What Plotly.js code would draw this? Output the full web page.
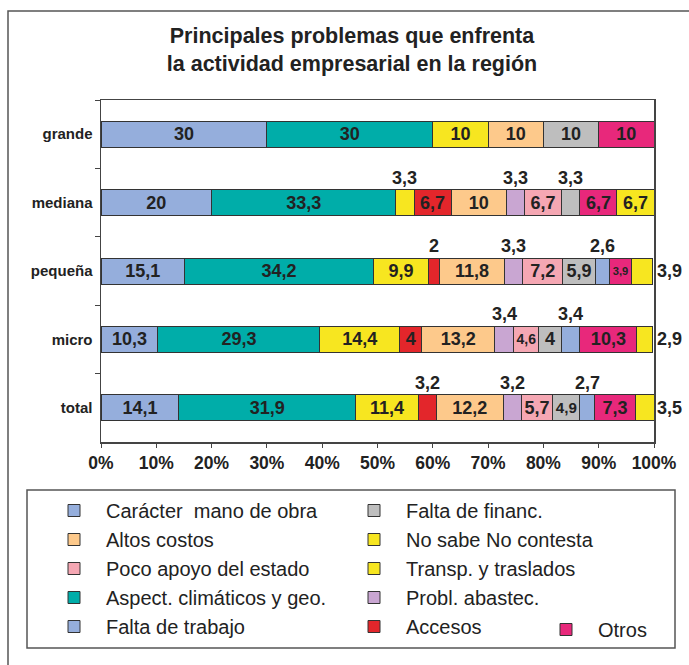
<!DOCTYPE html>
<html>
<head>
<meta charset="utf-8">
<script src="https://cdn.plot.ly/plotly-3.0.1.min.js"></script>
<style>
  html, body { margin: 0; padding: 0; background: #fff; }
</style>
</head>
<body>
<div id="chart"></div>
<script>
// categorias (de arriba hacia abajo)
const categorias = ["grande", "mediana", "pequeña", "micro", "total"];

// series en el orden en que se apilan
const caracterManoObra = [30, 20, 15.1, 10.3, 14.1];
const aspectClimaticos = [30, 33.3, 34.2, 29.3, 31.9];
const transpTraslados  = [10, 3.3, 9.9, 14.4, 11.4];
const accesos          = [0, 6.7, 2, 4, 3.2];
const altosCostos      = [10, 10, 11.8, 13.2, 12.2];
const problAbastec     = [0, 3.3, 3.3, 3.4, 3.2];
const pocoApoyo        = [0, 6.7, 7.2, 4.6, 5.7];
const faltaFinanc      = [10, 3.3, 5.9, 4, 4.9];
const faltaTrabajo     = [0, 0, 2.6, 3.4, 2.7];
const otros            = [10, 6.7, 3.9, 10.3, 7.3];
const noSabe           = [0, 6.7, 3.9, 2.9, 3.5];

const series = [
  { name: "Carácter\u00a0 mano de obra", y: caracterManoObra, color: "#95aedc" },
  { name: "Aspect. climáticos y geo.", y: aspectClimaticos, color: "#00ada9" },
  { name: "Transp. y traslados", y: transpTraslados, color: "#f7e620" },
  { name: "Accesos", y: accesos, color: "#e3262b" },
  { name: "Altos costos", y: altosCostos, color: "#fdc98b" },
  { name: "Probl. abastec.", y: problAbastec, color: "#c9a6d2" },
  { name: "Poco apoyo del estado", y: pocoApoyo, color: "#f5a7b3" },
  { name: "Falta de financ.", y: faltaFinanc, color: "#bebebe" },
  { name: "Falta de trabajo", y: faltaTrabajo, color: "#95aedc" },
  { name: "Otros", y: otros, color: "#e8287b" },
  { name: "No sabe No contesta", y: noSabe, color: "#f7e620" },
];

// columnas de la leyenda
const leyendaCol1 = ["Carácter\u00a0 mano de obra", "Altos costos", "Poco apoyo del estado", "Aspect. climáticos y geo.", "Falta de trabajo"];
const leyendaCol2 = ["Falta de financ.", "No sabe No contesta", "Transp. y traslados", "Probl. abastec.", "Accesos"];
const leyendaCol3 = ["Otros"];

const FONT = "Liberation Sans, Arial, sans-serif";
const W = 689, H = 665;
const M = { l: 101, r: 35, t: 100, b: 223 };
const plotW = W - M.l - M.r, plotH = H - M.t - M.b;
const px = (p) => (p - M.l) / plotW;
const py = (p) => (H - M.b - p) / plotH;

const fmt = (v) => String(v).replace(".", ",");
const labelFont = { family: FONT, size: 18, weight: "bold", color: "#222" };

const traces = [];
const annotations = [];
const acumulado = categorias.map(() => 0);

series.forEach((s, i) => {
  const esUltima = i === series.length - 1;
  const textos = s.y.map((v, j) => {
    if (!v) return "";
    const base = acumulado[j];
    // ultimo segmento angosto: etiqueta a la derecha de la barra
    if (esUltima && v < 5) {
      annotations.push({ x: 100, y: categorias[j], xref: "x", yref: "y", text: fmt(v),
        showarrow: false, xanchor: "left", xshift: 1, font: labelFont });
      return "";
    }
    // segmentos angostos: etiqueta sobre la barra
    if (v < 3.5) {
      annotations.push({ x: base + v / 2, y: categorias[j], xref: "x", yref: "y", text: fmt(v),
        showarrow: false, yshift: 25, font: labelFont });
      return "";
    }
    return fmt(v);
  });
  s.y.forEach((v, j) => { acumulado[j] += v; });

  let legend = "legend", rank = leyendaCol1.indexOf(s.name);
  if (leyendaCol2.includes(s.name)) { legend = "legend2"; rank = leyendaCol2.indexOf(s.name); }
  if (leyendaCol3.includes(s.name)) { legend = "legend3"; rank = 0; }

  traces.push({
    type: "bar",
    orientation: "h",
    name: s.name,
    x: s.y.map((v) => (v ? v : null)),
    y: categorias,
    marker: { color: s.color, line: { color: "#333", width: 1 } },
    text: textos,
    textposition: "inside",
    insidetextanchor: "middle",
    textangle: 0,
    constraintext: "inside",
    insidetextfont: labelFont,
    hovertemplate: "%{y}: %{x}%<extra>" + s.name + "</extra>",
    legend: legend,
    legendrank: rank + 1,
  });
});

const legendBase = {
  orientation: "v", xanchor: "left", yanchor: "top",
  font: { family: FONT, size: 20, color: "#222" },
  bgcolor: "rgba(0,0,0,0)", borderwidth: 0,
  traceorder: "normal", itemwidth: 54,
};

const layout = {
  width: W, height: H,
  margin: M,
  paper_bgcolor: "#fff",
  plot_bgcolor: "#fff",
  barmode: "stack",
  bargap: 0.62,
  title: {
    text: "Principales problemas que enfrenta<br>la actividad empresarial en la región",
    font: { family: FONT, size: 21.5, weight: "bold", color: "#222" },
    x: 352 / W, xref: "container", xanchor: "center",
    y: 1 - 43 / H, yref: "container", yanchor: "top",
  },
  xaxis: {
    range: [0, 100], dtick: 10, ticksuffix: "%",
    ticks: "outside", ticklen: 4, tickcolor: "#444",
    showline: true, mirror: true, linecolor: "#444", linewidth: 1.5,
    showgrid: false, zeroline: false,
    tickfont: { family: FONT, size: 17.5, weight: "bold", color: "#222" },
    ticklabelstandoff: 0,
  },
  yaxis: {
    type: "category", range: [4.5, -0.5],
    ticks: "outside", tickson: "boundaries", ticklen: 5, tickcolor: "#444",
    showline: true, mirror: true, linecolor: "#444", linewidth: 1.5,
    showgrid: false, zeroline: false,
    tickfont: { family: FONT, size: 15, weight: "bold", color: "#222" },
    ticklabelstandoff: 4,
  },
  legend: Object.assign({}, legendBase, { x: px(42), y: py(491) }),
  legend2: Object.assign({}, legendBase, { x: px(342), y: py(491) }),
  legend3: Object.assign({}, legendBase, { x: px(534), y: py(610) }),
  shapes: [
    { type: "rect", xref: "paper", yref: "paper", x0: px(8), x1: px(720), y0: py(720), y1: py(11),
      line: { color: "#555", width: 1.5 }, layer: "below" },
    { type: "rect", xref: "paper", yref: "paper", x0: px(27), x1: px(675), y0: py(648), y1: py(490),
      line: { color: "#555", width: 1.5 }, layer: "below" },
  ],
  annotations: annotations,
  showlegend: true,
};

Plotly.newPlot("chart", traces, layout, { displayModeBar: false, staticPlot: true });
</script>
</body>
</html>
